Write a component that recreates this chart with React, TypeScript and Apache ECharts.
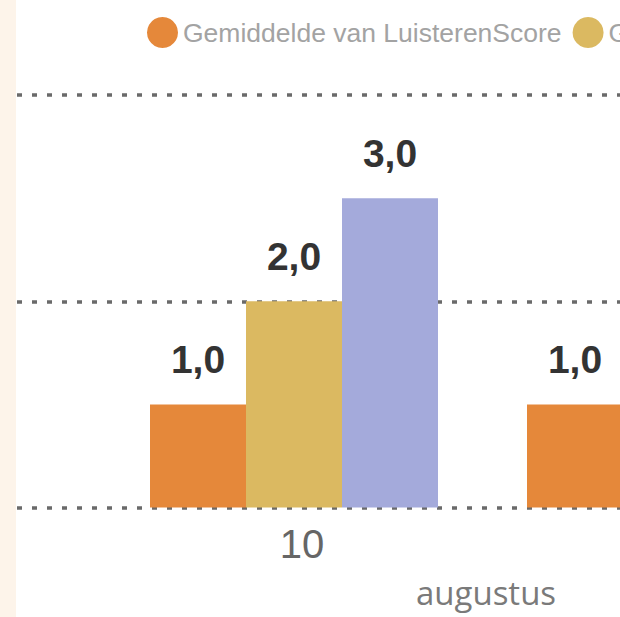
import React, { useEffect, useRef } from "react";
import * as echarts from "echarts";

const categories = ["10", "11"];
const seriesNames = [
  "Gemiddelde van LuisterenScore",
  "Gemiddelde van KijkenScore",
  "Gemiddelde van LezenScore",
];
const luisterenScore = [1.0, 1.0];
const kijkenScore: (number | null)[] = [2.0, null];
const lezenScore: (number | null)[] = [3.0, null];
const yTicks = [0, 2, 4];
const monthLabel = "augustus";

const colors = ["#E5883A", "#DBB961", "#A4AADB"];

export default function App() {
  const ref = useRef<HTMLDivElement>(null);

  useEffect(() => {
    if (!ref.current) return;
    const chart = echarts.init(ref.current, undefined, { renderer: "svg" });
    const fmt = (p: any) =>
      p.value == null ? "" : Number(p.value).toFixed(1).replace(".", ",");
    const labelCfg = {
      show: true,
      position: "top" as const,
      distance: 25,
      fontSize: 39,
      fontWeight: "bold" as const,
      color: "#333333",
      fontFamily: "'Liberation Sans', Arial, sans-serif",
      formatter: fmt,
    };
    const values = [luisterenScore, kijkenScore, lezenScore];
    chart.setOption({
      animation: false,
      backgroundColor: "#ffffff",
      color: colors,
      legend: {
        data: seriesNames,
        icon: "circle",
        orient: "horizontal",
        itemWidth: 31,
        itemHeight: 31,
        itemGap: 11,
        left: 142,
        top: 12,
        textStyle: {
          fontSize: 26.5,
          color: "#A3A3A3",
          fontFamily: "'Liberation Sans', Arial, sans-serif",
        },
      },
      grid: [
        { left: 17, right: 0, top: 95, height: 412.5 },
        { left: 105.5, width: 754, top: 95, height: 412.5 },
      ],
      xAxis: [
        { type: "value", gridIndex: 0, min: 0, max: 1, show: false },
        {
          type: "category",
          gridIndex: 1,
          data: categories,
          axisLine: { show: false },
          axisTick: { show: false },
          axisLabel: {
            fontSize: 40,
            color: "#666666",
            margin: 16,
            padding: [0, 0, 0, 16],
            fontFamily: "'Liberation Sans', Arial, sans-serif",
          },
        },
      ],
      yAxis: [
        {
          type: "value",
          gridIndex: 0,
          min: yTicks[0],
          max: yTicks[yTicks.length - 1],
          interval: yTicks[1] - yTicks[0],
          axisLine: { show: false },
          axisTick: { show: false },
          axisLabel: { show: false },
          splitLine: {
            show: true,
            lineStyle: { color: "#6A6A6A", width: 3.5, type: [5, 10] },
          },
        },
        {
          type: "value",
          gridIndex: 1,
          min: yTicks[0],
          max: yTicks[yTicks.length - 1],
          interval: yTicks[1] - yTicks[0],
          show: false,
          splitLine: { show: false },
        },
      ],
      graphic: [
        {
          type: "rect",
          left: 0,
          top: 0,
          shape: { x: 0, y: 0, width: 16, height: 617 },
          style: { fill: "#FDF4EA" },
          silent: true,
        },
        {
          type: "text",
          x: 486,
          y: 592,
          style: {
            text: monthLabel,
            fontSize: 33,
            fill: "#7A7A7A",
            fontFamily: "'Open Sans', sans-serif",
            textAlign: "center",
            textVerticalAlign: "middle",
          },
        },
      ],
      series: seriesNames.map((name, i) => ({
        name,
        type: "bar",
        xAxisIndex: 1,
        yAxisIndex: 1,
        barWidth: 96,
        barGap: "0%",
        data: values[i],
        label: labelCfg,
        itemStyle: { color: colors[i] },
      })),
    });
    return () => chart.dispose();
  }, []);

  return (
    <div
      style={{
        position: "absolute",
        left: 0,
        top: 0,
        width: 620,
        height: 617,
        overflow: "hidden",
        background: "#ffffff",
      }}
    >
      <div ref={ref} style={{ width: 1700, height: 617 }} />
    </div>
  );
}
